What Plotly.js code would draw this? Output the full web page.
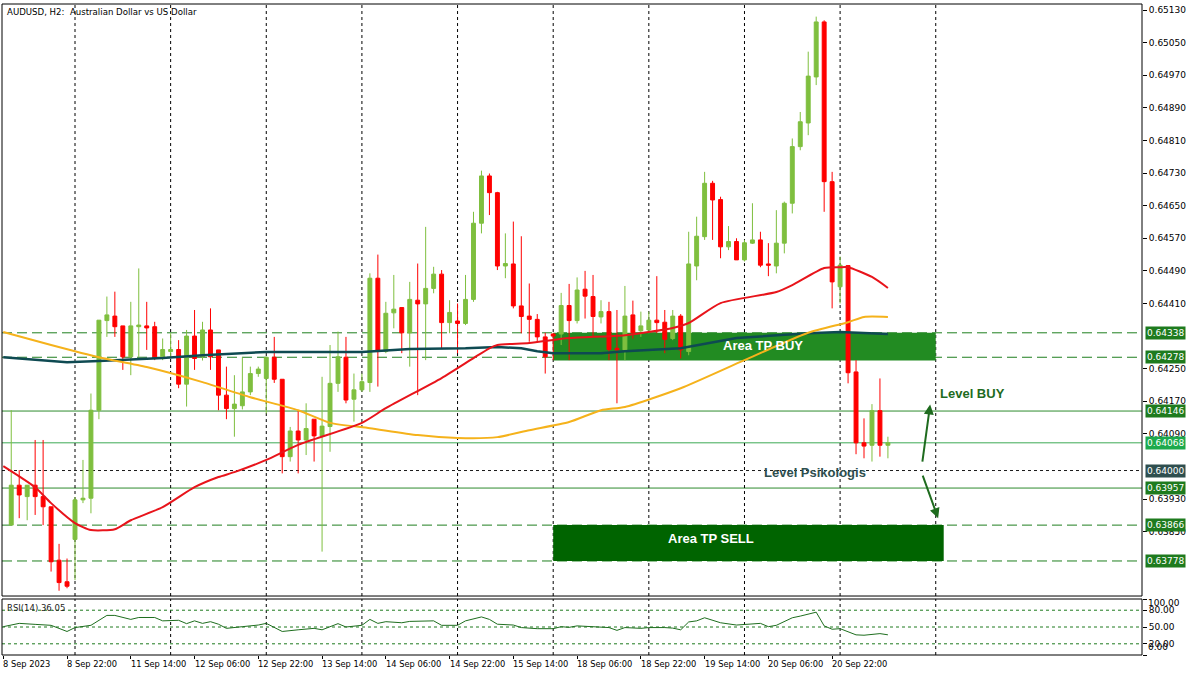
<!DOCTYPE html>
<html><head><meta charset="utf-8">
<script src="https://cdn.plot.ly/plotly-3.0.1.min.js"></script>
<style>html,body{margin:0;padding:0;background:#fff;}#chart{width:1200px;height:675px;}</style>
</head><body><div id="chart"></div>
<script>
// bar index 0 = 11 Sep 2023 00:00 (H2 bars, weekend skipped)
const FIRST_BAR = -8;
const OPEN  = [0.63866,0.63964,0.63936,0.63964,0.63936,0.63911,0.63780,0.63727,
0.63831,0.63928,0.63932,0.64148,0.64368,0.64379,0.64355,0.64279,0.64353,0.64355,0.64353,0.64279,0.64292,0.64297,0.64212,0.64330,0.64279,0.64345,0.64296,0.64185,0.64152,0.64159,0.64193,0.64238,0.64226,0.64278,0.64224,0.64034,0.64097,
0.64075,0.64126,0.64085,0.64108,0.64214,0.64278,0.64175,0.64198,0.64216,0.64472,0.64292,0.64387,0.64400,0.64338,0.64418,0.64409,0.64447,0.64482,0.64363,0.64367,0.64361,0.64420,0.64607,0.64723,0.64682,0.64502,0.64507,0.64404,0.64379,0.64371,0.64328,0.64335,0.64335,0.64405,0.64368,0.64445,0.64427,
0.64377,0.64390,0.64300,0.64296,0.64382,0.64343,0.64345,0.64369,0.64364,0.64324,0.64379,0.64292,0.64502,0.64574,0.64705,0.64665,0.64549,0.64562,0.64517,0.64558,0.64566,0.64507,0.64502,0.64558,
0.64656,0.64795,0.64853,0.64966,0.65101,0.64709,0.64451,0.64503,0.64242,0.64068,0.64062,0.64147,0.64062];
const HIGH  = [0.64148,0.64001,0.63964,0.64075,0.64075,0.63911,0.63820,0.63784,
0.63935,0.64026,0.64189,0.64369,0.64427,0.64439,0.64355,0.64414,0.64496,0.64414,0.64365,0.64324,0.64337,0.64320,0.64345,0.64394,0.64365,0.64398,0.64296,0.64255,0.64234,0.64278,0.64255,0.64255,0.64278,0.64328,0.64224,0.64107,0.64148,
0.64165,0.64126,0.64230,0.64308,0.64341,0.64328,0.64238,0.64238,0.64484,0.64530,0.64414,0.64480,0.64400,0.64463,0.64508,0.64598,0.64500,0.64492,0.64418,0.64410,0.64480,0.64635,0.64736,0.64729,0.64684,0.64582,0.64611,0.64575,0.64459,0.64384,0.64338,0.64337,0.64436,0.64458,0.64474,0.64490,0.64480,
0.64418,0.64414,0.64394,0.64453,0.64417,0.64390,0.64390,0.64477,0.64394,0.64394,0.64384,0.64586,0.64623,0.64733,0.64711,0.64672,0.64600,0.64570,0.64566,0.64656,0.64586,0.64558,0.64639,0.64660,
0.64815,0.64880,0.65028,0.65114,0.65105,0.64733,0.64525,0.64503,0.64271,0.64128,0.64163,0.64226,0.64083];
const LOW   = [0.63866,0.63883,0.63878,0.63891,0.63866,0.63752,0.63705,0.63711,
0.63731,0.63920,0.63895,0.64126,0.64328,0.64328,0.64247,0.64234,0.64279,0.64296,0.64271,0.64271,0.64275,0.64202,0.64157,0.64247,0.64270,0.64247,0.64148,0.64126,0.64083,0.64150,0.64185,0.64230,0.64140,0.64215,0.63993,0.64022,0.63993,
0.64038,0.64022,0.63801,0.64046,0.64193,0.64165,0.64120,0.64193,0.64193,0.64206,0.64288,0.64349,0.64288,0.64255,0.64185,0.64271,0.64435,0.64300,0.64337,0.64288,0.64357,0.64414,0.64582,0.64627,0.64492,0.64472,0.64398,0.64337,0.64316,0.64314,0.64238,0.64271,0.64308,0.64271,0.64361,0.64373,0.64328,
0.64361,0.64271,0.64165,0.64271,0.64324,0.64328,0.64337,0.64337,0.64288,0.64320,0.64275,0.64283,0.64467,0.64566,0.64566,0.64521,0.64541,0.64517,0.64513,0.64556,0.64499,0.64477,0.64484,0.64533,
0.64631,0.64786,0.64823,0.64946,0.64635,0.64398,0.64410,0.64214,0.64040,0.64030,0.64022,0.64034,0.64030];
const CLOSE = [0.63964,0.63940,0.63964,0.63936,0.63911,0.63776,0.63725,0.63716,
0.63928,0.63932,0.64148,0.64369,0.64382,0.64353,0.64279,0.64355,0.64357,0.64350,0.64279,0.64297,0.64297,0.64212,0.64330,0.64275,0.64345,0.64279,0.64185,0.64152,0.64163,0.64193,0.64238,0.64249,0.64278,0.64224,0.64034,0.64097,0.64075,
0.64103,0.64085,0.64109,0.64214,0.64279,0.64173,0.64198,0.64218,0.64472,0.64292,0.64386,0.64396,0.64338,0.64420,0.64409,0.64447,0.64482,0.64363,0.64388,0.64361,0.64420,0.64607,0.64723,0.64682,0.64502,0.64508,0.64404,0.64378,0.64371,0.64328,0.64279,0.64330,0.64405,0.64368,0.64443,0.64428,0.64378,
0.64390,0.64297,0.64296,0.64379,0.64338,0.64355,0.64369,0.64363,0.64322,0.64379,0.64296,0.64507,0.64575,0.64705,0.64664,0.64549,0.64562,0.64517,0.64559,0.64566,0.64504,0.64504,0.64558,0.64656,
0.64795,0.64856,0.64968,0.65101,0.64709,0.64463,0.64504,0.64240,0.64068,0.64060,0.64147,0.64062,0.64068];

// moving averages sampled at bar indices
const RED_MA_BAR = [-9,-5,-3,0,2,5,7,11,15,18,20,24,28,36,39,46,50,52,53,57,62,69,75,77,81,88,90,94,96,97,100,102];
const RED_MA     = [0.64011,0.63959,0.63920,0.63871,0.63854,0.63856,0.63878,0.63910,0.63959,0.63984,0.63996,0.64026,0.64063,0.64117,0.64153,0.64227,0.64276,0.64300,0.64308,0.64313,0.64325,0.64332,0.64350,0.64362,0.64411,0.64438,0.64455,0.64497,0.64499,0.64499,0.64475,0.64448];
const ORANGE_MA_BAR = [-9,-3,3,9,16,22,28,32,37,43,48,53,57,62,66,69,76,84,92,97,99,102];
const ORANGE_MA     = [0.64340,0.64308,0.64278,0.64254,0.64217,0.64180,0.64148,0.64117,0.64104,0.64087,0.64080,0.64082,0.64099,0.64119,0.64148,0.64156,0.64202,0.64271,0.64338,0.64364,0.64377,0.64377];
const TEAL_MA_BAR = [-9,-1,3,11,16,24,36,42,49,53,56,58,60,66,69,76,83,92,96,99,102];
const TEAL_MA     = [0.64278,0.64266,0.64269,0.64276,0.64283,0.64291,0.64291,0.64298,0.64300,0.64303,0.64300,0.64293,0.64288,0.64288,0.64293,0.64300,0.64325,0.64337,0.64340,0.64338,0.64335];

// RSI(14)
const RSI_BAR = [-9,-7,-5,-3,-1,0,2,4,5,7,8,10,11,13,14,15,16,17,18,19,21,23,24,26,28,30,31,33,34,36,37,38,39,41,42,45,46,48,49,51,52,53,55,56,58,60,61,62,63,65,67,68,69,71,72,74,75,76,77,78,79,81,82,83,86,87,88,90,91,93,94,95,96,97,98,99,100,101,102];
const RSI     = [50.6,56.5,54.7,53,42,49,53,70.7,70.7,63.6,67,67,61,62,56,61,56.5,59.5,55,47.6,50.6,53.5,56.5,42,45,47.6,45,56,50,53,63.6,56.5,59.5,57.6,60,61,53,53,61,68,63.6,55,53.5,49,47,47,50.6,49.4,52,50,49,44,49,47.6,49,49,48,45,59,61,66.5,57.6,56,53.5,56.5,50.6,53,66.5,69.5,76.5,52,46,47,42,36,35.3,37,38.2,36.05];
const RSI_LEVELS = [20,50,80];
const RSI_TICKS = [0,20,50,80,100];

// axis labels
const PRICE_TICKS = [0.65130,0.65050,0.64970,0.64890,0.64810,0.64730,0.64650,0.64570,0.64490,0.64410,0.64250,0.64170,0.64090,0.63930,0.63850];
const TIME_LABELS = ['8 Sep 2023','8 Sep 22:00','11 Sep 14:00','12 Sep 06:00','12 Sep 22:00','13 Sep 14:00','14 Sep 06:00','14 Sep 22:00','15 Sep 14:00','18 Sep 06:00','18 Sep 22:00','19 Sep 14:00','20 Sep 06:00','20 Sep 22:00'];
const TIME_LABEL_BARS = [-9,-1,7,15,23,31,39,47,55,63,71,79,87,95];
const DAY_BARS = [0,12,24,36,48,60,72,84,96,108];

// drawn levels
const LEVEL_PRICES = [0.64338,0.64278,0.64146,0.64068,0.64000,0.63957,0.63866,0.63778];
const LEVEL_STYLE  = ['long','long','solid','current','dot','solid','long','long'];

// zones and notes
const ZONE_NAMES = ['Area TP BUY','Area TP SELL'];
const ZONE_BARS  = [[60,108],[60,109]];
const ZONE_PRICES= [[0.64338,0.64270],[0.63866,0.63778]];
const NOTE_TEXT  = ['Area TP BUY','Area TP SELL','Level BUY','Level Psikologis'];
const NOTE_BAR   = [86.3,79.8,108.3,92.8];
const NOTE_PRICE = [0.64306,0.63834,0.64188,0.63994];
const ARROW_FROM = [[106.3,0.64018],[106.3,0.63991]];
const ARROW_TO   = [[107.3,0.64162],[108.3,0.63883]];

const UP='#7FBF3F', DOWN='#FF0000', LINEGREEN='#1F7F1F';
const bars = OPEN.map((_,k)=>k+FIRST_BAR);

const traces = [
  {type:'scatter',mode:'lines',x:TEAL_MA_BAR,y:TEAL_MA,line:{color:'#0E4A52',width:2.5},hoverinfo:'skip'},
  {type:'scatter',mode:'lines',x:ORANGE_MA_BAR,y:ORANGE_MA,line:{color:'#F5B21B',width:2,shape:'spline',smoothing:0.6},hoverinfo:'skip'},
  {type:'candlestick',x:bars,open:OPEN,high:HIGH,low:LOW,close:CLOSE,
   increasing:{line:{color:UP,width:1},fillcolor:UP},
   decreasing:{line:{color:DOWN,width:1},fillcolor:DOWN},whiskerwidth:0,hoverinfo:'skip'},
  {type:'scatter',mode:'lines',x:RED_MA_BAR,y:RED_MA,line:{color:'#E8141B',width:2,shape:'spline',smoothing:0.6},hoverinfo:'skip'},
  {type:'scatter',mode:'lines',x:RSI_BAR,y:RSI,yaxis:'y2',line:{color:'#1E6E1E',width:1},hoverinfo:'skip'}
];

const shapes = [];
LEVEL_PRICES.forEach((p,k)=>{
  const st = LEVEL_STYLE[k];
  let line;
  if(st==='long') line={color:LINEGREEN,width:1,dash:'10px,5px'};
  else if(st==='solid') line={color:'#2E8B2E',width:1};
  else if(st==='current') line={color:'#3DAA55',width:1};
  else line={color:'#1a1a1a',width:1,dash:'3px,3px'};
  shapes.push({type:'line',xref:'paper',x0:0,x1:1,yref:'y',y0:p,y1:p,line:line,layer:'below'});
});
const ZONE_COLORS = ['#228B22','#006400'];
ZONE_NAMES.forEach((n,k)=>{
  shapes.push({type:'rect',xref:'x',yref:'y',x0:ZONE_BARS[k][0],x1:ZONE_BARS[k][1],y0:ZONE_PRICES[k][0],y1:ZONE_PRICES[k][1],fillcolor:ZONE_COLORS[k],line:{width:0},layer:'below'});
});
DAY_BARS.forEach(b=>{
  shapes.push({type:'line',xref:'x',x0:b,x1:b,yref:'y domain',y0:0,y1:1,line:{color:'#000',width:1,dash:'3px,3px'},layer:'below'});
  shapes.push({type:'line',xref:'x',x0:b,x1:b,yref:'y2 domain',y0:0,y1:1,line:{color:'#000',width:1,dash:'3px,3px'},layer:'below'});
});
RSI_LEVELS.forEach(v=>{
  shapes.push({type:'line',xref:'paper',x0:0,x1:1,yref:'y2',y0:v,y1:v,line:{color:'#1E7B1E',width:1,dash:'3px,3px'},layer:'below'});
});
shapes.push({type:'rect',xref:'paper',x0:0,x1:1,yref:'y domain',y0:0,y1:1,line:{color:'#000',width:1}});
shapes.push({type:'rect',xref:'paper',x0:0,x1:1,yref:'y2 domain',y0:0,y1:1,line:{color:'#000',width:1}});

const annotations = [];
annotations.push({xref:'paper',yref:'paper',x:0,y:1,xanchor:'left',yanchor:'top',xshift:3,yshift:-1,showarrow:false,
  text:'AUDUSD, H2:  Australian Dollar vs US Dollar',font:{family:'DejaVu Sans',size:8.6,color:'#000'}});
annotations.push({xref:'paper',yref:'y2 domain',x:0,y:1,xanchor:'left',yanchor:'top',xshift:3,yshift:-2,showarrow:false,
  text:'RSI(14) 36.05',font:{family:'DejaVu Sans',size:8.5,color:'#222'}});
TIME_LABELS.forEach((t,k)=>{
  annotations.push({xref:'x',yref:'paper',x:TIME_LABEL_BARS[k],y:0,xanchor:'left',yanchor:'top',xshift:-2,yshift:-2,showarrow:false,
    text:t,font:{family:'DejaVu Sans',size:8.3,color:'#000'}});
});
// RSI end labels (drawn inside the panel like the terminal does)
annotations.push({xref:'paper',yref:'y2',x:1,y:100,xanchor:'left',yanchor:'middle',xshift:4,yshift:-4,showarrow:false,
  text:'100.00',font:{family:'DejaVu Sans',size:9,color:'#000'}});
annotations.push({xref:'paper',yref:'y2',x:1,y:0,xanchor:'left',yanchor:'middle',xshift:4,yshift:8,showarrow:false,
  text:'0.00',font:{family:'DejaVu Sans',size:9,color:'#000'}});
const LABEL_BG = {long:'#1E7B1E',solid:'#1E7B1E',current:'#1DAA4C',dot:'#2F4F4F'};
LEVEL_PRICES.forEach((p,k)=>{
  annotations.push({xref:'paper',yref:'y',x:1,y:p,xanchor:'left',yanchor:'middle',xshift:3,showarrow:false,
    text:p.toFixed(5),bgcolor:LABEL_BG[LEVEL_STYLE[k]],borderpad:1,font:{family:'DejaVu Sans',size:9,color:'#fff'}});
});
const NOTE_COLORS = ['#ffffff','#ffffff','#1E6B1E','#2F4F4F'];
const NOTE_ANCHOR = ['center','center','left','center'];
NOTE_TEXT.forEach((t,k)=>{
  annotations.push({xref:'x',yref:'y',x:NOTE_BAR[k],y:NOTE_PRICE[k],xanchor:NOTE_ANCHOR[k],yanchor:'middle',showarrow:false,
    text:'<b>'+t+'</b>',font:{family:'Liberation Sans',size:13,color:NOTE_COLORS[k]}});
});
ARROW_FROM.forEach((f,k)=>{
  annotations.push({xref:'x',yref:'y',axref:'x',ayref:'y',x:ARROW_TO[k][0],y:ARROW_TO[k][1],ax:f[0],ay:f[1],
    showarrow:true,arrowhead:2,arrowsize:1,arrowwidth:2,arrowcolor:'#1E6B1E',text:''});
});

const layout = {
  width:1200,height:675,margin:{l:2,r:58,t:4,b:20},
  paper_bgcolor:'#fff',plot_bgcolor:'#fff',showlegend:false,
  font:{family:'DejaVu Sans',size:9,color:'#000'},
  xaxis:{range:[-9.16,133.88],anchor:'y2',showgrid:false,zeroline:false,tickvals:TIME_LABEL_BARS,
    ticks:'outside',ticklen:3,tickcolor:'#000',showticklabels:false,rangeslider:{visible:false},showline:false},
  yaxis:{domain:[0.0906,1],range:[0.63692,0.65145],side:'right',tickvals:PRICE_TICKS,tickformat:'.5f',
    ticks:'outside',ticklen:4,tickcolor:'#000',showgrid:false,zeroline:false,
    tickfont:{family:'DejaVu Sans',size:9,color:'#000'}},
  yaxis2:{domain:[0,0.086],range:[0,100],side:'right',tickvals:RSI_TICKS,
    ticktext:RSI_TICKS.map(v=>(v===0||v===100)?'':v.toFixed(2)),
    ticks:'outside',ticklen:4,tickcolor:'#000',showgrid:false,zeroline:false,
    tickfont:{family:'DejaVu Sans',size:9,color:'#000'}},
  shapes:shapes,annotations:annotations
};
Plotly.newPlot('chart',traces,layout,{staticPlot:true,displayModeBar:false});
</script></body></html>
